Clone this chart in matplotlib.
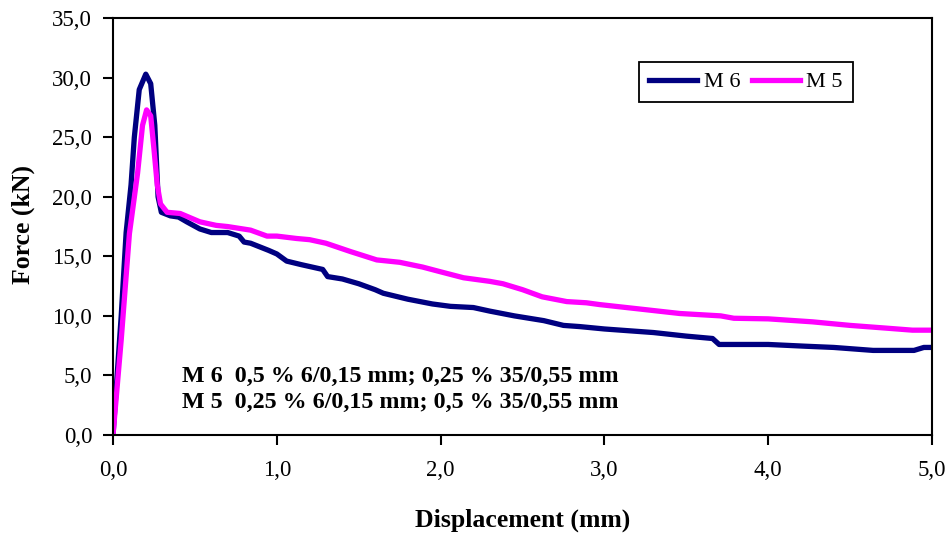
import matplotlib
matplotlib.use('Agg')
import matplotlib.pyplot as plt
from matplotlib.ticker import FuncFormatter

plt.rcParams['font.family'] = ['Liberation Serif', 'DejaVu Serif']

# M 6 (navy)
m6_x = [0, 0.02, 0.05, 0.08, 0.11, 0.13, 0.16, 0.20, 0.23, 0.255, 0.275, 0.295,
        0.35, 0.40, 0.45, 0.53, 0.60, 0.70, 0.77, 0.80, 0.84, 0.95, 1.00, 1.06,
        1.15, 1.28, 1.31, 1.40, 1.50, 1.60, 1.65, 1.80, 1.95, 2.06, 2.20, 2.30,
        2.45, 2.63, 2.75, 2.85, 3.00, 3.10, 3.30, 3.50, 3.66, 3.70, 4.00, 4.23,
        4.40, 4.64, 4.89, 4.95, 5.00]
m6_y = [0, 4.0, 10.0, 17.0, 21.0, 25.0, 29.0, 30.3, 29.5, 26.0, 20.0, 18.7,
        18.4, 18.3, 17.9, 17.3, 17.0, 17.0, 16.7, 16.2, 16.1, 15.5, 15.2, 14.6,
        14.3, 13.9, 13.3, 13.1, 12.7, 12.2, 11.9, 11.4, 11.0, 10.8, 10.7, 10.4,
        10.0, 9.6, 9.2, 9.1, 8.9, 8.8, 8.6, 8.3, 8.1, 7.6, 7.6, 7.45,
        7.35, 7.1, 7.1, 7.35, 7.35]

# M 5 (magenta)
m5_x = [0, 0.05, 0.10, 0.15, 0.18, 0.205, 0.23, 0.25, 0.27, 0.29, 0.33, 0.41,
        0.53, 0.63, 0.70, 0.84, 0.94, 1.00, 1.12, 1.20, 1.30, 1.45, 1.61, 1.75,
        1.89, 2.00, 2.14, 2.30, 2.38, 2.50, 2.62, 2.77, 2.89, 2.97, 3.20, 3.46,
        3.71, 3.79, 4.00, 4.27, 4.50, 4.74, 4.88, 5.00]
m5_y = [0, 8.0, 16.9, 22.0, 26.0, 27.3, 26.8, 24.0, 21.0, 19.4, 18.7, 18.6,
        17.9, 17.6, 17.5, 17.2, 16.7, 16.7, 16.5, 16.4, 16.1, 15.4, 14.7, 14.5,
        14.1, 13.7, 13.2, 12.9, 12.7, 12.2, 11.6, 11.2, 11.1, 10.95, 10.6, 10.2,
        10.0, 9.8, 9.75, 9.5, 9.2, 8.95, 8.8, 8.8]

note_lines = ['M 6  0,5 % 6/0,15 mm; 0,25 % 35/0,55 mm',
              'M 5  0,25 % 6/0,15 mm; 0,5 % 35/0,55 mm']

fig = plt.figure(figsize=(9.53, 5.35), dpi=100)
ax = fig.add_axes([0.1186, 0.187, 0.8594, 0.779])

ax.plot(m6_x, m6_y, color='#000080', lw=3.8, label='M 6')
ax.plot(m5_x, m5_y, color='#FF00FF', lw=3.8, label='M 5')

ax.set_xlim(0, 5)
ax.set_ylim(0, 35)
ax.set_xticks([0, 1, 2, 3, 4, 5])
ax.set_yticks(range(0, 36, 5))
comma = FuncFormatter(lambda v, p: f'{v:.1f}'.replace('.', ','))
ax.xaxis.set_major_formatter(comma)
ax.yaxis.set_major_formatter(comma)
ax.tick_params(direction='out', length=7, width=1.5, labelsize=16.5)
ax.tick_params(axis='x', pad=11)
ax.tick_params(axis='y', pad=8)
for s in ax.spines.values():
    s.set_linewidth(1.5)

ax.set_xlabel('Displacement (mm)', fontsize=18.5, fontweight='bold', va='baseline')
ax.xaxis.set_label_coords(0.5, -0.2206)
ax.set_ylabel('Force (kN)', fontsize=18.5, fontweight='bold', va='center')
ax.yaxis.set_label_coords(-0.11, 0.506)

ax.text(0.421, 4.47, note_lines[0], fontsize=17.3, fontweight='bold', va='baseline')
ax.text(0.421, 2.24, note_lines[1], fontsize=17.3, fontweight='bold', va='baseline')

leg = ax.legend(loc='upper left', bbox_to_anchor=(0.6426, 0.8952), ncol=2,
                fontsize=16, frameon=True, fancybox=False, edgecolor='black',
                handlelength=2.15, columnspacing=0.53, handletextpad=0.3,
                borderpad=0.45, borderaxespad=0)
leg.get_frame().set_linewidth(1.3)
leg.get_frame().set_alpha(1)

fig.savefig('out.png', dpi=100)
